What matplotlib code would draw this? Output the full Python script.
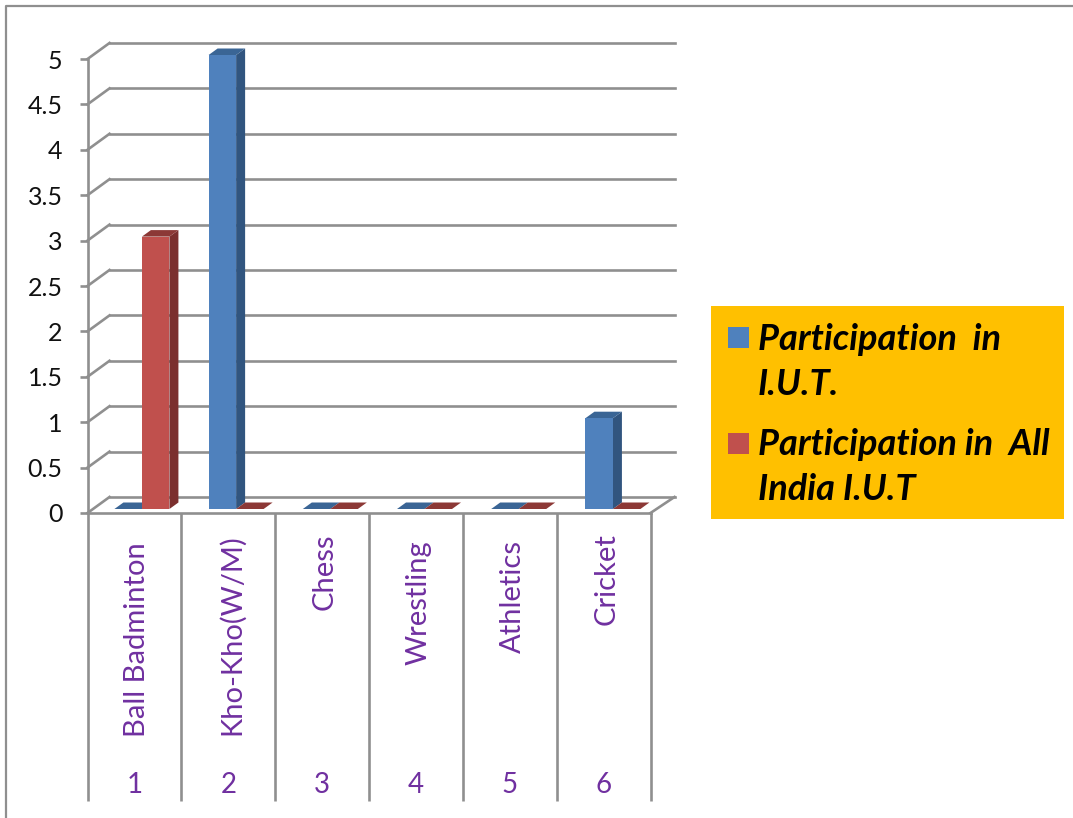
import matplotlib
matplotlib.use("Agg")
import matplotlib.pyplot as plt
from matplotlib.patches import Rectangle
from matplotlib.lines import Line2D

categories = ["Ball Badminton", "Kho-Kho(W/M)", "Chess", "Wrestling", "Athletics", "Cricket"]
numbers = ["1", "2", "3", "4", "5", "6"]
iut = [0, 5, 0, 0, 0, 1]
all_india = [3, 0, 0, 0, 0, 0]
y_ticks = [0, 0.5, 1, 1.5, 2, 2.5, 3, 3.5, 4, 4.5, 5]
y_labels = ["0", "0.5", "1", "1.5", "2", "2.5", "3", "3.5", "4", "4.5", "5"]
legend_labels = ["Participation  in\nI.U.T.", "Participation in  All\nIndia I.U.T"]

W, H = 1073, 818
GRAY = "#8F8F8F"
PURPLE = "#7030A0"
FONT = "Lato"
LW = 1.9

# front plane of the fake 3d box, in pixels
left, right, top, bottom = 87.5, 650.5, 59, 513
px_x = (right - left) / 6
px_y = (bottom - top) / 5

fig = plt.figure(figsize=(W / 100, H / 100), dpi=100)
ax = fig.add_axes([left / W, 1 - bottom / H, (right - left) / W, (bottom - top) / H])
ax.set_xlim(0, 6)
ax.set_ylim(0, 5)
ax.patch.set_visible(False)
for s in ["top", "right"]:
    ax.spines[s].set_visible(False)
for s in ["left", "bottom"]:
    ax.spines[s].set_color(GRAY)
    ax.spines[s].set_linewidth(LW)

ax.set_yticks(y_ticks)
ax.set_yticklabels(y_labels, fontsize=18, fontfamily=FONT, color="#111111")
ax.tick_params(axis="y", length=5.5, width=LW, color=GRAY, pad=12.5)
ax.set_xticks(range(7))
ax.set_xticklabels([])
ax.tick_params(axis="x", length=288 * 0.72, width=LW, color=GRAY)

# back wall: gridlines + the diagonals running back from the axis
wall_dy = 16 / px_y
wall_l = 22 / px_x
wall_r = 6 + 24 / px_x
for v in y_ticks:
    ax.plot([wall_l, wall_r], [v + wall_dy] * 2, color=GRAY, lw=LW, clip_on=False, zorder=1)
    ax.plot([0, wall_l], [v, v + wall_dy], color=GRAY, lw=LW, clip_on=False, zorder=1)
ax.plot([6, wall_r], [0, wall_dy], color=GRAY, lw=LW, clip_on=False, zorder=1)


def bars3d(xs, vals, front, side, roof):
    # front with bar(), then the side and roof faces pushed back
    base = 4 / px_y
    w = 27.5 / px_x
    dx = 9 / px_x
    dy = 6.5 / px_y
    for x, v in zip(xs, vals):
        ax.fill([x + w, x + w + dx, x + w + dx, x + w],
                [base, base + dy, base + v + dy, base + v],
                color=side, lw=0, clip_on=False, zorder=3)
        ax.fill([x, x + dx, x + w + dx, x + w],
                [base + v, base + v + dy, base + v + dy, base + v],
                color=roof, lw=0, clip_on=False, zorder=3)
    rects = ax.bar(xs, vals, width=w, bottom=base, align="edge", color=front, lw=0, zorder=3)
    for r in rects:
        r.set_clip_on(False)


shift = 7.5 / px_x
w_bar = 27.5 / px_x
slot = 94.2 / px_x
pos = [0.5 + shift + i * slot for i in range(6)]
bars3d([p - w_bar for p in pos], iut, "#4F81BD", "#31557F", "#3A6595")
bars3d(pos, all_india, "#C0504D", "#7B2F2E", "#8C3836")

# category text under the axis, px positions
label_tops = [542, 534, 533, 540, 540, 533]
nudge = 3 / px_x
for i, name in enumerate(categories):
    yy = (bottom - label_tops[i]) / (bottom - top)
    ax.text(i + 0.5 + nudge, yy, name, transform=ax.get_xaxis_transform(), rotation=90,
            ha="center", va="top", fontsize=21, fontfamily=FONT, color=PURPLE)
    ax.text(i + 0.5, (bottom - 785) / (bottom - top), numbers[i], transform=ax.get_xaxis_transform(),
            ha="center", va="center", fontsize=20, fontfamily=FONT, color=PURPLE)

# legend box
fig.patches.append(Rectangle((711 / W, 1 - 519 / H), 353 / W, 213 / H, transform=fig.transFigure,
                             facecolor="#FFC000", edgecolor="none", figure=fig))
swatches = [("#4F81BD", 327, 360), ("#C0504D", 433, 465)]
for (col, y0, ytxt), lab in zip(swatches, legend_labels):
    fig.patches.append(Rectangle((728 / W, 1 - (y0 + 21) / H), 21 / W, 21 / H, transform=fig.transFigure,
                                 facecolor=col, edgecolor="none", figure=fig))
    fig.text(758 / W, 1 - (ytxt - 37) / H, lab, ha="left", va="top", fontsize=26, linespacing=1.43,
             fontfamily=FONT, fontweight="bold", fontstyle="italic", color="black")

# border of the pasted picture
fig.add_artist(Line2D([6 / W, 6 / W, 1], [0, 1 - 6 / H, 1 - 6 / H], color=GRAY, lw=1.6))

fig.savefig("out.png", dpi=100)
